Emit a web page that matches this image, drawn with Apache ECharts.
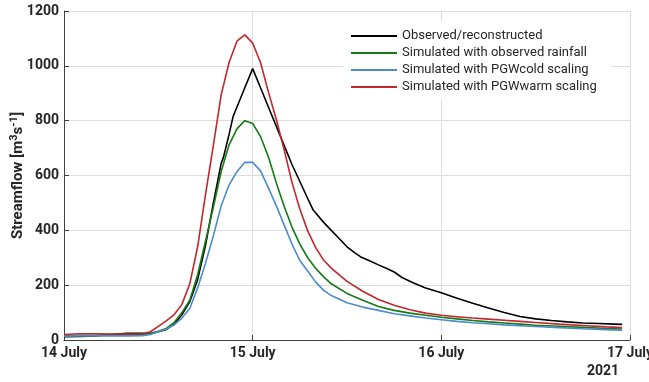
<!DOCTYPE html>
<html>
<head>
<meta charset="utf-8">
<script src="https://cdn.jsdelivr.net/npm/echarts@6/dist/echarts.min.js"></script>
<style>
  html, body { margin: 0; padding: 0; background: #fff; }
  #chart { width: 649px; height: 382px; }
</style>
</head>
<body>
<div id="chart"></div>
<script>
// hours since 14 July 2021 00:00
var simHours = [0, 2, 4, 6, 8, 10, 11, 12, 13, 14, 15, 16, 17, 18, 19, 20, 21, 22, 23, 24, 25, 26, 27, 28, 29, 30, 31, 32, 33, 34, 36, 38, 40, 42, 44, 46, 48, 50, 52, 54, 56, 58, 60, 63, 66, 69, 71];
var warmFlow = [20, 23, 23, 22, 22, 23, 30, 50, 70, 92, 130, 205, 340, 530, 710, 895, 1012, 1090, 1113, 1083, 1012, 905, 805, 695, 575, 478, 398, 338, 292, 262, 214, 178, 148, 127, 110, 98, 90, 85, 80, 76, 72, 68, 64, 58, 53, 48, 45];
var rainFlow = [15, 17, 17, 18, 19, 20, 24, 32, 42, 63, 100, 145, 238, 360, 485, 615, 712, 770, 800, 790, 742, 668, 574, 488, 412, 350, 300, 262, 231, 205, 170, 145, 122, 108, 98, 90, 83, 77, 71, 66, 62, 58, 54, 50, 46, 42, 40];
var coldFlow = [14, 15, 15, 15, 15, 16, 20, 30, 40, 55, 80, 115, 190, 280, 380, 490, 566, 614, 648, 648, 617, 555, 490, 420, 350, 290, 252, 212, 182, 162, 136, 120, 108, 96, 88, 80, 74, 68, 63, 59, 55, 52, 49, 45, 41, 38, 36];

var obsHours = [0, 2, 4, 6, 8, 10, 11, 12, 13, 14, 15, 16, 17, 18, 19, 20, 20.3, 21, 21.5, 22, 23, 24, 25, 26, 27, 28, 29, 30, 31, 31.7, 33, 34, 35, 36, 37, 37.7, 39, 40, 41, 42, 43, 44.4, 46, 48, 50, 52, 54, 56, 58, 60, 62, 64, 66, 68, 70, 71];
var obsFlow = [12, 13, 15, 20, 24, 24, 24, 30, 38, 58, 92, 140, 220, 345, 500, 645, 668, 750, 814, 850, 920, 990, 920, 850, 780, 710, 640, 578, 516, 474, 430, 400, 370, 340, 318, 304, 287, 274, 262, 248, 228, 209, 190, 172, 152, 134, 117, 100, 86, 77, 71, 66, 62, 60, 58, 57];

var dayLabels = { 0: '14 July', 24: '15 July', 48: '16 July', 72: '17 July' };
var seriesNames = ['Observed/reconstructed', 'Simulated with observed rainfall', 'Simulated with PGWcold scaling', 'Simulated with PGWwarm scaling'];
var seriesColors = ['#000000', '#147a14', '#4a8dcc', '#c1272d'];

function pairs(xs, ys) {
  return xs.map(function (x, i) { return [x, ys[i]]; });
}

var chart = echarts.init(document.getElementById('chart'));
var tickText = { color: '#262626', fontFamily: 'Roboto', fontWeight: 'bold', fontSize: 14 };

var lineData = [pairs(obsHours, obsFlow), pairs(simHours, rainFlow), pairs(simHours, coldFlow), pairs(simHours, warmFlow)];

var option = {
  animation: false,
  backgroundColor: '#fff',
  grid: { left: 64, right: 19, top: 11, bottom: 42, containLabel: false, outerBoundsMode: 'none' },
  legend: {
    orient: 'vertical',
    left: 343,
    top: 21,
    padding: [8, 14, 6, 8],
    backgroundColor: '#fff',
    icon: 'rect',
    itemWidth: 46,
    itemHeight: 2,
    itemGap: 3,
    textStyle: { color: '#262626', fontFamily: 'Roboto', fontSize: 13, lineHeight: 14 },
    data: seriesNames
  },
  xAxis: {
    type: 'value',
    min: 0,
    max: 72,
    interval: 24,
    axisLine: { lineStyle: { color: '#404040', width: 1 } },
    axisTick: { inside: true, length: 5, lineStyle: { color: '#404040' } },
    axisLabel: Object.assign({ margin: 6, showMinLabel: true, showMaxLabel: true, formatter: function (v) { return dayLabels[v] || ''; } }, tickText),
    splitLine: { show: true, lineStyle: { color: '#dcdcdc', width: 1 } }
  },
  yAxis: {
    type: 'value',
    min: 0,
    max: 1200,
    interval: 200,
    name: 'Streamflow [m{sup|3}s{sup|-1}]',
    nameLocation: 'middle',
    nameGap: 36,
    nameMoveOverlap: false,
    nameTextStyle: {
      color: '#262626', fontFamily: 'Roboto', fontWeight: 'bold', fontSize: 15,
      rich: { sup: { fontFamily: 'Roboto', fontWeight: 'bold', fontSize: 11, verticalAlign: 'top', padding: [0, 0, 8, 0], color: '#262626' } }
    },
    axisLine: { show: true, lineStyle: { color: '#404040', width: 1 } },
    axisTick: { show: true, inside: true, length: 5, lineStyle: { color: '#404040' } },
    axisLabel: Object.assign({ margin: 5, formatter: function (v) { return String(v); } }, tickText),
    splitLine: { show: true, lineStyle: { color: '#dcdcdc', width: 1 } }
  },
  graphic: [{
    type: 'text',
    left: 587,
    top: 364,
    style: { text: '2021', font: 'bold 14px Roboto', fill: '#262626' }
  }],
  series: seriesNames.map(function (name, i) {
    return {
      name: name,
      type: 'line',
      data: lineData[i],
      symbol: 'none',
      color: seriesColors[i],
      lineStyle: { color: seriesColors[i], width: 1.6 }
    };
  })
};

chart.setOption(option);
</script>
</body>
</html>
